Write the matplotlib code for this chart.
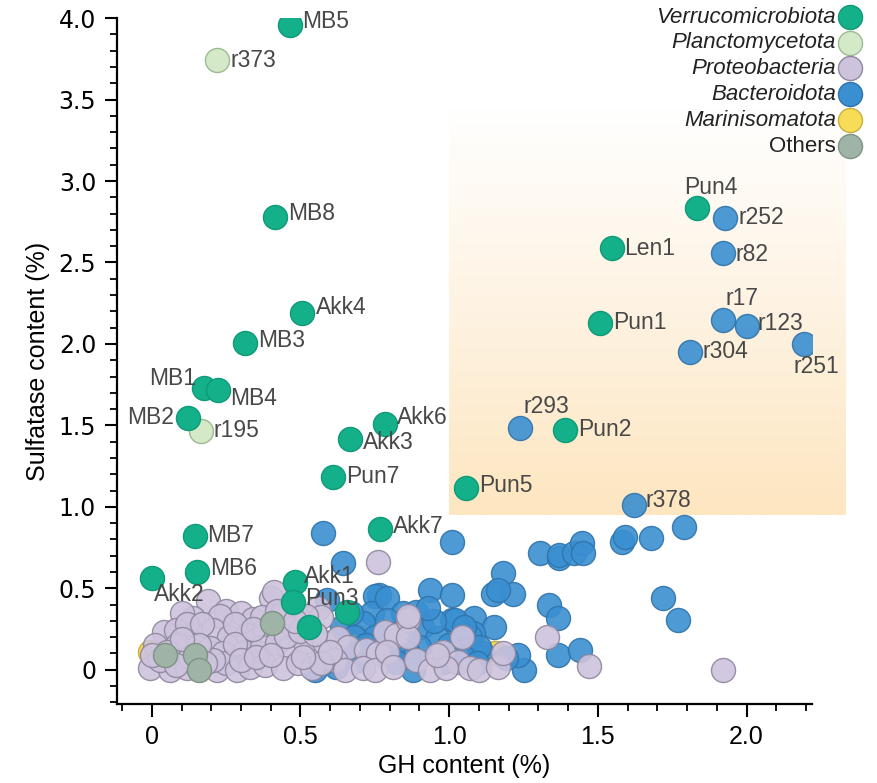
import matplotlib
matplotlib.use("Agg")
import matplotlib.pyplot as plt
import numpy as np
from matplotlib import font_manager
from matplotlib.colors import LinearSegmentedColormap

# ---------------- data ----------------
verru_x = [0.465, 0.414, 0.505, 0.313, 0.175, 0.222, 0.121, 0.785, 0.667, 0.609,
           1.057, 1.390, 1.832, 1.549, 1.508, 0.145, 0.152, 0.000, 0.768, 0.480,
           0.475, 0.530, 0.655]
verru_y = [3.960, 2.780, 2.190, 2.006, 1.730, 1.716, 1.546, 1.510, 1.417, 1.184,
           1.117, 1.472, 2.834, 2.589, 2.129, 0.822, 0.600, 0.564, 0.865, 0.540,
           0.417, 0.265, 0.356]
verru_lab = ["MB5", "MB8", "Akk4", "MB3", "MB1", "MB4", "MB2", "Akk6", "Akk3", "Pun7",
             "Pun5", "Pun2", "Pun4", "Len1", "Pun1", "MB7", "MB6", "Akk2", "Akk7", "Akk1",
             "Pun3", "", ""]

planc_x = [0.219, 0.165]
planc_y = [3.742, 1.466]
planc_lab = ["r373", "r195"]

bact_x = [1.929, 1.922, 1.922, 2.000, 1.811, 2.192, 1.239, 1.620,
          1.010, 0.576, 0.643, 0.764, 0.590, 0.750, 0.740, 0.710, 0.640, 0.680, 0.640,
          1.306, 1.370, 1.370, 1.420, 1.447, 1.450, 1.582, 1.590, 1.680, 1.790,
          1.180, 1.148, 1.215, 0.936, 1.010, 1.165, 1.337, 1.367, 1.720, 1.770,
          1.367, 1.440, 1.010, 1.085, 1.150, 1.250, 1.230, 1.110, 1.080,
          0.790, 0.845, 0.890, 0.910, 1.020, 0.790, 0.960, 1.070, 1.100, 0.900,
          1.047, 1.094, 0.860, 0.810, 1.190, 0.750, 0.800, 0.850, 0.950, 0.980,
          0.700, 0.720, 0.620, 0.550, 0.580, 0.930, 0.820, 0.880, 1.000, 1.050, 0.670]
bact_y = [2.773, 2.558, 2.147, 2.110, 1.951, 2.000, 1.485, 1.012,
          0.785, 0.840, 0.656, 0.460, 0.430, 0.450, 0.350, 0.290, 0.265, 0.200, 0.110,
          0.717, 0.687, 0.705, 0.718, 0.780, 0.718, 0.785, 0.816, 0.810, 0.877,
          0.595, 0.466, 0.466, 0.490, 0.460, 0.490, 0.400, 0.320, 0.440, 0.307,
          0.092, 0.123, 0.307, 0.320, 0.265, 0.000, 0.090, 0.100, 0.227,
          0.440, 0.350, 0.356, 0.265, 0.307, 0.307, 0.196, 0.200, 0.140, 0.140,
          0.080, 0.043, 0.104, 0.140, 0.074, 0.200, 0.220, 0.250, 0.300, 0.050,
          0.060, 0.150, 0.020, 0.000, 0.050, 0.380, 0.050, 0.000, 0.150, 0.260, 0.350]
bact_lab = ["r252", "r82", "r17", "r123", "r304", "r251", "r293", "r378"]

proteo_x = [0.190, 0.140, 0.100, 0.250, 0.300, 0.230, 0.340,
            0.040, 0.080, 0.150, 0.205, 0.260, 0.320, 0.350,
            0.010, 0.085, 0.195, 0.240, 0.310,
            -0.007, 0.060, 0.120, 0.220, 0.250, 0.285, 0.330, 0.027, 0.205,
            0.400, 0.370, 0.440, 0.560, 0.570, 0.520,
            0.380, 0.455, 0.370, 0.420, 0.460, 0.515, 0.580, 0.625, 0.660, 0.720, 0.760,
            0.380, 0.440, 0.490, 0.540, 0.615, 0.650, 0.710, 0.750, 0.570,
            0.410, 0.760,
            0.785, 0.820, 0.860, 0.862, 0.790, 1.044, 0.980, 1.030, 0.810, 0.890,
            0.935, 0.990, 1.070, 1.100, 1.165, 1.180, 0.960, 0.860,
            1.330, 1.470, 1.920,
            0.120, 0.170, 0.280, 0.050, 0.130, 0.160, 0.280, 0.300, 0.350, 0.400,
            0.450, 0.500, 0.510, 0.550, 0.600, 0.100, 0.340, 0.420, 0.480, 0.080,
            0.180, 0.000]
proteo_y = [0.420, 0.320, 0.350, 0.360, 0.350, 0.330, 0.310,
            0.230, 0.245, 0.215, 0.245, 0.200, 0.215, 0.180,
            0.150, 0.150, 0.135, 0.100, 0.110,
            0.012, 0.000, 0.012, 0.000, 0.040, 0.000, 0.020, 0.060, 0.060,
            0.440, 0.325, 0.355, 0.380, 0.325, 0.330,
            0.245, 0.265, 0.140, 0.165, 0.135, 0.170, 0.170, 0.195, 0.140, 0.120, 0.100,
            0.030, 0.012, 0.043, 0.012, 0.060, 0.000, 0.012, 0.000, 0.040,
            0.480, 0.660,
            0.233, 0.215, 0.307, 0.200, 0.110, 0.200, 0.110, 0.050, 0.020, 0.060,
            0.000, 0.012, 0.012, 0.000, 0.020, 0.104, 0.090, 0.330,
            0.200, 0.025, 0.000,
            0.280, 0.280, 0.280, 0.110, 0.080, 0.150, 0.160, 0.060, 0.080, 0.090,
            0.210, 0.240, 0.080, 0.220, 0.110, 0.190, 0.250, 0.360, 0.300, 0.030,
            0.040, 0.090]

marin_x = [-0.007, 0.690, 1.155]
marin_y = [0.110, 0.200, 0.104]

others_x = [0.044, 0.145, 0.160, 0.405]
others_y = [0.092, 0.092, 0.000, 0.290]

# label offsets (pixels): dx, dy, ha
label_pos = {
    "MB5": (12, 3, "left"), "MB8": (13, 3, "left"), "Akk4": (14, 5, "left"),
    "MB3": (13, 2, "left"), "MB1": (-8, 9, "right"), "MB4": (12, -8, "left"),
    "MB2": (-14, 0, "right"), "Akk6": (12, 6, "left"), "Akk3": (13, -4, "left"),
    "Pun7": (13, 0, "left"), "Pun5": (13, 2, "left"), "Pun2": (13, 0, "left"),
    "Pun4": (14, 21, "center"), "Len1": (12, -1, "left"), "Pun1": (13, 0, "left"),
    "MB7": (12, 0, "left"), "MB6": (13, 4, "left"), "Akk2": (2, -17, "left"),
    "Akk7": (13, 2, "left"), "Akk1": (9, 5, "left"), "Pun3": (12, 3, "left"),
    "r373": (14, 0, "left"), "r195": (13, 0, "left"),
    "r252": (13, 0, "left"), "r82": (12, -1, "left"), "r17": (19, 21, "center"),
    "r123": (11, 3, "left"), "r304": (12, 0, "left"), "r251": (13, -23, "center"),
    "r293": (3, 21, "left"), "r378": (12, 4, "left"),
}

# ---------------- style ----------------
names = [f.name for f in font_manager.fontManager.ttflist]
narrow = "Liberation Sans Narrow" if "Liberation Sans Narrow" in names else "Liberation Sans"

fig = plt.figure(figsize=(8.77, 7.83), dpi=100)
ax = fig.add_axes([0.1334, 0.1009, 0.7925, 0.876])

S = 300
ms = dict(s=S, linewidths=1.0)

c_verru, e_verru = "#14b08a", "#0f9a78"
c_planc, e_planc = "#d4e9c8", "#9cbb92"
c_proteo, e_proteo = "#cdc3dd", "#8e869c"
c_bact, e_bact = "#3a8fd1", "#2f73ab"
c_marin, e_marin = "#f6dc57", "#c9ae3e"
c_oth, e_oth = "#9fb3a6", "#7e9286"

# gradient box
grad = np.linspace(0, 1, 256).reshape(-1, 1)
cmap = LinearSegmentedColormap.from_list("pe", ["#fde6c0", "#fef3e2", "#ffffff"])
ax.imshow(grad, extent=[1.0, 2.333, 0.95, 3.45], origin="lower", cmap=cmap,
          aspect="auto", zorder=0, clip_on=False, interpolation="bilinear")

sc_m = ax.scatter(marin_x, marin_y, c=c_marin, edgecolors=e_marin, zorder=2, **ms,
                  label="Marinisomatota")
sc_b = ax.scatter(bact_x, bact_y, c=c_bact, edgecolors=e_bact, alpha=0.9, zorder=3, **ms,
                  label="Bacteroidota")
sc_p = ax.scatter(proteo_x, proteo_y, c=c_proteo, edgecolors=e_proteo, alpha=0.9, zorder=4,
                  **ms, label="Proteobacteria")
sc_o = ax.scatter(others_x, others_y, c=c_oth, edgecolors=e_oth, zorder=5, **ms,
                  label="Others")
sc_pl = ax.scatter(planc_x, planc_y, c=c_planc, edgecolors=e_planc, zorder=6, **ms,
                   label="Planctomycetota")
sc_v = ax.scatter(verru_x, verru_y, c=c_verru, edgecolors=e_verru, zorder=7, **ms,
                  label="Verrucomicrobiota")

def add_labels(xs, ys, labs):
    for x, y, l in zip(xs, ys, labs):
        if not l:
            continue
        dx, dy, ha = label_pos[l]
        ax.annotate(l, (x, y), xytext=(dx, dy), textcoords="offset pixels",
                    ha=ha, va="center", fontsize=16.5, color="#484848",
                    family="Liberation Sans", zorder=10)

add_labels(verru_x, verru_y, verru_lab)
add_labels(planc_x, planc_y, planc_lab)
add_labels(bact_x[:len(bact_lab)], bact_y[:len(bact_lab)], bact_lab)

ax.set_xlim(-0.117, 2.22)
ax.set_ylim(-0.21, 4.0)

for s in ["top", "right"]:
    ax.spines[s].set_visible(False)
for s in ["left", "bottom"]:
    ax.spines[s].set_linewidth(1.6)

ax.set_xticks([0, 0.5, 1.0, 1.5, 2.0])
ax.set_xticklabels(["0", "0.5", "1.0", "1.5", "2.0"], family=narrow, fontsize=18)
ax.set_xticks(np.round(np.arange(-0.1, 2.21, 0.1), 2), minor=True)
ax.set_yticks([0, 0.5, 1.0, 1.5, 2.0, 2.5, 3.0, 3.5, 4.0])
ax.set_yticklabels(["0", "0.5", "1.0", "1.5", "2.0", "2.5", "3.0", "3.5", "4.0"],
                   family="DejaVu Sans", fontsize=17)
ax.set_yticks(np.round(np.arange(-0.2, 4.01, 0.1), 2), minor=True)
ax.tick_params(which="major", direction="out", length=9, width=1.5, pad=6)
ax.tick_params(which="minor", direction="out", length=5, width=1.3)

ax.set_xlabel("GH content (%)", family="Liberation Sans", fontsize=18, labelpad=4)
ax.set_ylabel("Sulfatase content (%)", family="Liberation Sans", fontsize=18, labelpad=6)

handles = [sc_v, sc_pl, sc_p, sc_b, sc_m, sc_o]
labels = ["Verrucomicrobiota", "Planctomycetota", "Proteobacteria", "Bacteroidota",
          "Marinisomatota", "Others"]
leg = fig.legend(handles, labels, loc="upper right", bbox_to_anchor=(0.994, 1.003),
                 frameon=False, markerfirst=False, handletextpad=0.0,
                 labelspacing=0.22, borderaxespad=0.2, borderpad=0.2, handlelength=1.2,
                 prop={"family": "Liberation Sans", "size": 16, "style": "italic"})
for t in leg.get_texts():
    t.set_color("#222222")
    if t.get_text() == "Others":
        t.set_fontstyle("normal")
for h in leg.legend_handles:
    h.set_alpha(1.0)

fig.savefig("out.png", dpi=100)
